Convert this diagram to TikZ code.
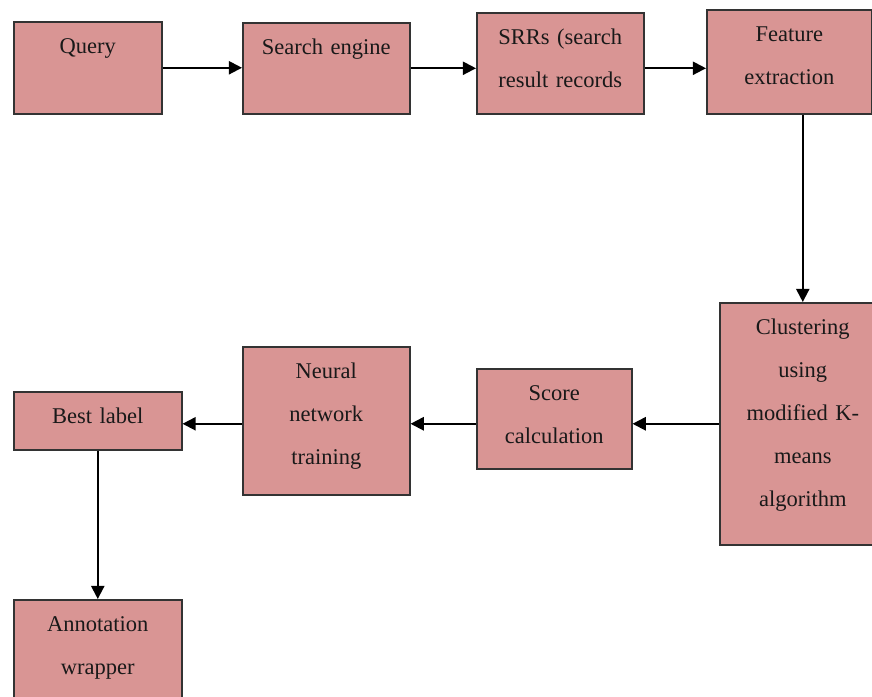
\documentclass[tikz,border=0pt]{standalone}
\usepackage{fontspec}
\setmainfont{Liberation Serif}
\usepackage{xcolor}
\usetikzlibrary{arrows.meta}
\definecolor{boxred}{HTML}{D99594}
\tikzset{
	blk/.style={draw=black!80, line width=1.1pt, fill=boxred, inner sep=0pt, anchor=north west, align=center, text height=0.8cm, text=black!90, font=\fontsize{16}{30.6}\selectfont},
	arr/.style={line width=1.4pt, -{Triangle[length=0.33cm, width=0.33cm]}}
}
\begin{document}
\begin{tikzpicture}
						\useasboundingbox (0,0) rectangle (21.8,-17.4);
						
						\node[blk, text width=3.7cm, text depth=1.5cm] (Q) at (0.325,-0.525) {Query};
						\node[blk, text width=4.175cm, text depth=1.475cm] (E) at (6.05,-0.55) {Search engine};
						\node[blk, text width=4.175cm, text depth=1.725cm] (R) at (11.9,-0.3) {SRRs (search\\result records};
						\node[blk, text width=4.125cm, text depth=1.8cm] (F) at (17.65,-0.225) {Feature\\extraction};
						\node[blk, text width=4.15cm, text depth=5.25cm] (K) at (17.975,-7.55) {Clustering\\using\\modified K-\\means\\algorithm};
						\node[blk, text width=3.875cm, text depth=1.7cm] (S) at (11.9,-9.2) {Score\\calculation};
						\node[blk, text width=4.175cm, text depth=2.9cm] (N) at (6.05,-8.65) {Neural\\network\\training};
						\node[blk, text width=4.2cm, text depth=0.65cm] (B) at (0.325,-9.775) {Best label};
						\node[blk, text width=4.2cm, text depth=2.2cm] (W) at (0.325,-14.975) {Annotation\\wrapper};
						
						\draw[arr] (Q.east) -- (Q.east -| E.west);
						\draw[arr] (E.east) -- (E.east -| R.west);
						\draw[arr] (E.east -| R.east) -- (E.east -| F.west);
						\draw[arr] (F.south -| K.north) -- (K.north);
						\draw[arr] (K.west) -- (K.west -| S.east);
						\draw[arr] (K.west -| S.west) -- (K.west -| N.east);
						\draw[arr] (K.west -| N.west) -- (K.west -| B.east);
						\draw[arr] (B.south) -- (W.north);
					\end{tikzpicture}
\end{document}
